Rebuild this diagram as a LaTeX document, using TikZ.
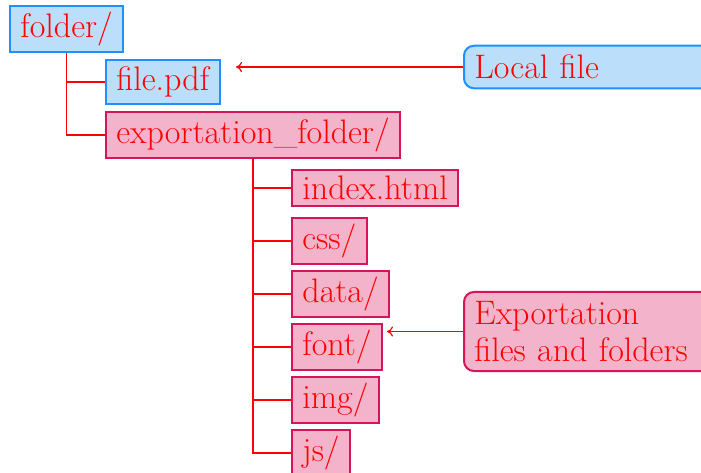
\documentclass[tikz,border=0pt]{standalone}
\usetikzlibrary{arrows.meta}
\definecolor{bluefill}{RGB}{187,222,251}
\definecolor{blueline}{RGB}{30,144,255}
\definecolor{pinkfill}{RGB}{242,179,203}
\definecolor{pinkline}{RGB}{214,20,90}
\tikzset{
  entry/.style={draw, line width=1pt, anchor=west, inner xsep=5.2pt, inner ysep=3.2pt,
    text=red, font=\fontsize{17}{18.6}\selectfont},
  localentry/.style={entry, fill=bluefill, draw=blueline},
  exportentry/.style={entry, fill=pinkfill, draw=pinkline},
  note/.style={entry, rounded corners=5pt, inner ysep=4.6pt, text width=150pt, align=left},
  branch/.style={draw=red, line width=0.65pt},
  pointer/.style={draw=red, line width=0.6pt, -{To[length=3pt,width=5pt]}}
}
\begin{document}
\begin{tikzpicture}[x=0.5pt, y=-0.5pt]
  \useasboundingbox (0,0) rectangle (701,472);
  \clip (0,0) rectangle (701,472);

  % top level
  \node[localentry] (folder) at (9,29) {folder/};
  \node[localentry] (file) at (105,82) {file.pdf};
  \node[exportentry] (exp) at (105,135) {exportation\_folder/};

  % contents of the exportation folder
  \node[exportentry] (index) at (291,188) {index.html};
  \node[exportentry] (css) at (291,241) {css/};
  \node[exportentry] (data) at (291,294) {data/};
  \node[exportentry] (font) at (291,347) {font/};
  \node[exportentry] (img) at (291,400) {img/};
  \node[exportentry] (js) at (291,453) {js/};

  % tree branches
  \draw[branch] (folder.south) |- (file.west);
  \draw[branch] (folder.south) |- (exp.west);
  \foreach \n in {index,css,data,font,img,js}
    \draw[branch] (exp.south) |- (\n.west);

  % annotations
  \node[note, fill=bluefill, draw=blueline] (local) at (463,67) {Local file};
  \node[note, fill=pinkfill, draw=pinkline] (exports) at (463,331.5)
    {Exportation\\files and folders};

  \coordinate (tipfile) at (236,67);
  \coordinate (tipfont) at (387,331.5);
  \draw[pointer] (local.west) -- (tipfile);
  \draw[pointer] (exports.west) -- (tipfont);
\end{tikzpicture}
\end{document}
